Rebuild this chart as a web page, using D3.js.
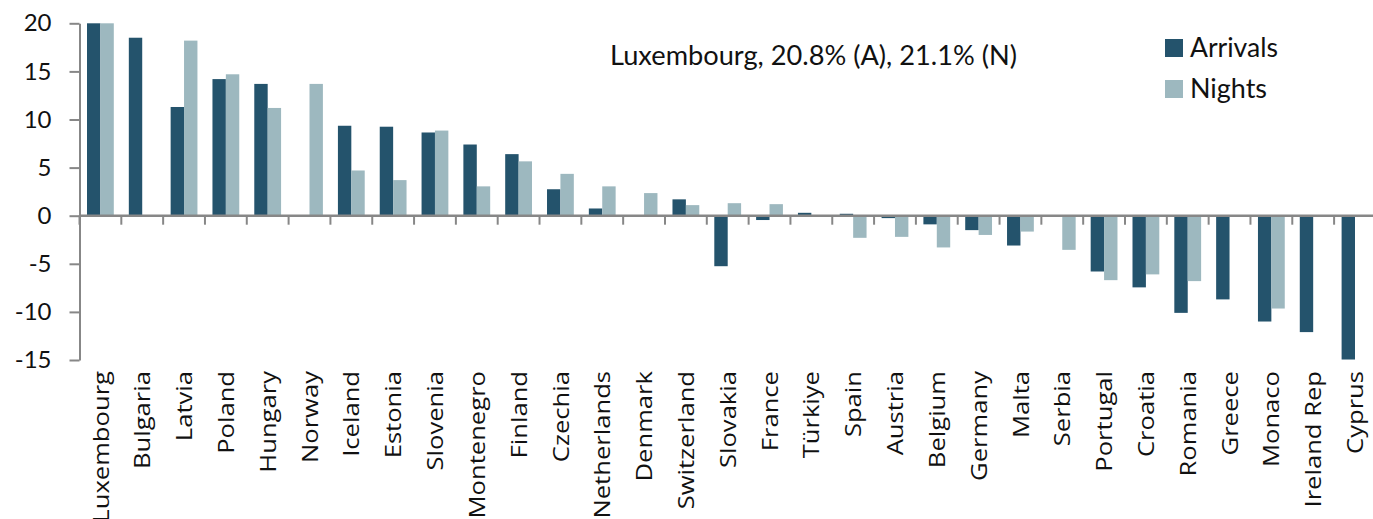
<!DOCTYPE html>
<html><head><meta charset="utf-8">
<script src="https://cdn.jsdelivr.net/npm/d3@7"></script>
<style>body{margin:0;background:#fff;overflow:hidden} svg{display:block}</style>
</head><body>
<script>
const categories = ["Luxembourg","Bulgaria","Latvia","Poland","Hungary","Norway","Iceland","Estonia","Slovenia","Montenegro","Finland","Czechia","Netherlands","Denmark","Switzerland","Slovakia","France","Türkiye","Spain","Austria","Belgium","Germany","Malta","Serbia","Portugal","Croatia","Romania","Greece","Monaco","Ireland Rep","Cyprus"];
const arrivals = [20.8,18.5,11.3,14.2,13.7,null,9.35,9.25,8.65,7.4,6.4,2.75,0.75,null,1.7,-5.25,-0.45,0.3,0.2,-0.25,-0.9,-1.5,-3.1,null,-5.8,-7.45,-10.1,-8.7,-11.0,-12.1,-14.95];
const nights = [21.1,null,18.2,14.7,11.2,13.7,4.7,3.7,8.85,3.05,5.65,4.35,3.05,2.35,1.1,1.3,1.2,null,-2.3,-2.2,-3.3,-2.0,-1.65,-3.55,-6.7,-6.1,-6.8,null,-9.65,null,null];
const yTicks = [20,15,10,5,0,-5,-10,-15];
const seriesNames = ["Arrivals","Nights"];
const annotationText = "Luxembourg, 20.8% (A), 21.1% (N)";

const W = 1373, H = 519;
const colors = {"Arrivals":"#24536c","Nights":"#9db8bf"};
const axisColor = "#878787";

const svg = d3.select("body").append("svg").attr("width", W).attr("height", H);

const y = d3.scaleLinear().domain([-15, 20]).range([360, 23.3]).clamp(true);
const x = d3.scaleBand().domain(categories).range([79.5, 79.5 + 41.82 * categories.length]).paddingInner(0).paddingOuter(0);
const x1 = d3.scaleBand().domain(seriesNames).range([7.5, 34.3]).padding(0);

const data = categories.map((c, i) => ({cat: c, vals: [
  {s: "Arrivals", v: arrivals[i]},
  {s: "Nights", v: nights[i]}
]}));

// bars
const g = svg.append("g");
data.forEach(d => {
  d.vals.forEach(b => {
    if (b.v === null) return;
    const y0 = y(0), yv = y(b.v);
    g.append("rect")
      .attr("x", x(d.cat) + x1(b.s))
      .attr("width", x1.bandwidth())
      .attr("y", Math.min(y0, yv))
      .attr("height", Math.abs(yv - y0))
      .attr("fill", colors[b.s]);
  });
});

// y axis
const yAxis = svg.append("g").attr("transform", "translate(79.5,0)")
  .call(d3.axisLeft(y).tickValues(yTicks).tickSize(10).tickSizeOuter(0).tickPadding(18).tickFormat(d => String(d)));
yAxis.select(".domain").attr("stroke", axisColor).attr("stroke-width", 2);
yAxis.selectAll(".tick line").attr("stroke", axisColor).attr("stroke-width", 2);
yAxis.selectAll(".tick text").attr("font-family", "Lato, sans-serif").attr("font-size", 24).attr("fill", "#111");

// x axis (zero line with boundary ticks)
const xAxisG = svg.append("g");
xAxisG.append("line").attr("x1", 79.5).attr("x2", W).attr("y1", y(0)).attr("y2", y(0))
  .attr("stroke", axisColor).attr("stroke-width", 2.5);
const bounds = categories.map(c => x(c)).concat([x.range()[1]]);
xAxisG.selectAll("line.tk").data(bounds).enter().append("line").attr("class", "tk")
  .attr("x1", d => d).attr("x2", d => d).attr("y1", y(0)).attr("y2", y(0) + 9)
  .attr("stroke", axisColor).attr("stroke-width", 2);

// category labels
svg.append("g").selectAll("text").data(categories).enter().append("text")
  .attr("transform", d => `translate(${x(d) + x.bandwidth() / 2},371) scale(0.88,1) rotate(-90)`)
  .attr("text-anchor", "end")
  .attr("dy", "0.36em")
  .attr("font-family", "'Open Sans', sans-serif")
  .attr("font-size", 25.6)
  .attr("fill", "#111")
  .text(d => d);

// annotation
svg.append("text").attr("x", 610).attr("y", 65)
  .attr("font-family", "Lato, sans-serif").attr("font-size", 26).attr("fill", "#111")
  .attr("textLength", 407).attr("lengthAdjust", "spacingAndGlyphs")
  .text(annotationText);

// legend
const legendLens = {"Arrivals": 88, "Nights": 77};
const lg = svg.append("g");
seriesNames.forEach((s, i) => {
  const ty = 39 + i * 41;
  lg.append("rect").attr("x", 1165).attr("y", ty).attr("width", 18).attr("height", 18).attr("fill", colors[s]);
  lg.append("text").attr("x", 1190).attr("y", ty + 18)
    .attr("font-family", "Lato, sans-serif").attr("font-size", 26).attr("fill", "#111")
    .attr("textLength", legendLens[s]).attr("lengthAdjust", "spacingAndGlyphs")
    .text(s);
});
</script>
</body></html>
